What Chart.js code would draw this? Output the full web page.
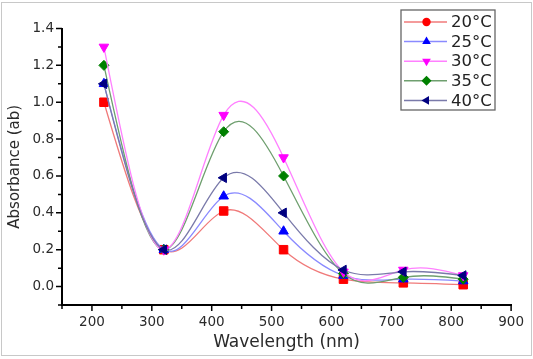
<!DOCTYPE html>
<html>
<head>
<meta charset="utf-8">
<script src="https://cdn.jsdelivr.net/npm/chart.js@4.4.1/dist/chart.umd.min.js"></script>
<style>
  html, body { margin: 0; padding: 0; background: #fff; }
  #wrap { width: 533px; height: 359px; position: relative; }
</style>
</head>
<body>
<div id="wrap"><canvas id="c" width="533" height="359"></canvas></div>
<script>
// ---- data ----
const wavelengths = [220, 320, 420, 520, 620, 720, 820];
const abs20 = [1.00, 0.20, 0.41, 0.20, 0.04, 0.02, 0.01];
const abs25 = [1.10, 0.20, 0.49, 0.30, 0.06, 0.04, 0.03];
const abs30 = [1.30, 0.20, 0.93, 0.70, 0.08, 0.09, 0.06];
const abs35 = [1.20, 0.20, 0.84, 0.60, 0.07, 0.05, 0.04];
const abs40 = [1.10, 0.20, 0.59, 0.40, 0.09, 0.08, 0.06];
const seriesLabels = ['20°C', '25°C', '30°C', '35°C', '40°C'];
const xTickLabels = [200, 300, 400, 500, 600, 700, 800, 900];
const yTickLabels = ['0.0', '0.2', '0.4', '0.6', '0.8', '1.0', '1.2', '1.4'];

const seriesValues = [abs20, abs25, abs30, abs35, abs40];
const lineColors = ['#f07a7a', '#8a8aff', '#ff80ff', '#6f9f6f', '#7a7aaa'];
const markColors = ['#ff0000', '#0000ff', '#ff00ff', '#008000', '#000080'];
const chartStyles = ['rect', 'triangle', 'triangle', 'rectRot', 'triangle'];
const rotations = [0, 0, 180, 0, 270];
const radii = [6, 5.5, 5.5, 5, 5.5];
const orders = [4, 3, 1, 2, 0];
const legendStyles = ['circle', 'up', 'down', 'diamond', 'left'];

const datasets = seriesValues.map((vals, i) => ({
  label: seriesLabels[i],
  data: wavelengths.map((w, j) => ({ x: w, y: vals[j] })),
  borderColor: lineColors[i],
  borderWidth: 1.3,
  backgroundColor: markColors[i],
  pointBackgroundColor: markColors[i],
  pointBorderColor: markColors[i],
  pointBorderWidth: 1,
  pointStyle: chartStyles[i],
  pointRotation: rotations[i],
  pointRadius: radii[i],
  tension: 0.4,
  fill: false,
  order: orders[i]
}));

// natural cubic spline through the library's own point positions (like Origin "Spline")
const splinePlugin = {
  id: 'naturalSpline',
  beforeDatasetDraw(chart, args) {
    const meta = args.meta;
    const pts = meta.data;
    const n = pts.length;
    if (n < 3) return;
    const x = pts.map(p => p.x), y = pts.map(p => p.y);
    const h = [];
    for (let i = 0; i < n - 1; i++) h[i] = x[i + 1] - x[i];
    const M = new Array(n).fill(0);
    const cp = [], dp = [];
    for (let i = 1; i < n - 1; i++) {
      const a = h[i - 1], b = 2 * (h[i - 1] + h[i]), c = h[i];
      const d = 6 * ((y[i + 1] - y[i]) / h[i] - (y[i] - y[i - 1]) / h[i - 1]);
      const den = b - (i > 1 ? a * cp[i - 1] : 0);
      cp[i] = c / den;
      dp[i] = (d - (i > 1 ? a * dp[i - 1] : 0)) / den;
    }
    for (let i = n - 2; i >= 1; i--) M[i] = dp[i] - cp[i] * M[i + 1];
    const m = [];
    for (let i = 0; i < n - 1; i++) m[i] = (y[i + 1] - y[i]) / h[i] - h[i] * (2 * M[i] + M[i + 1]) / 6;
    m[n - 1] = (y[n - 1] - y[n - 2]) / h[n - 2] + h[n - 2] * (M[n - 2] + 2 * M[n - 1]) / 6;
    pts[0].cp1x = x[0]; pts[0].cp1y = y[0];
    pts[n - 1].cp2x = x[n - 1]; pts[n - 1].cp2y = y[n - 1];
    for (let i = 0; i < n - 1; i++) {
      pts[i].cp2x = x[i] + h[i] / 3;
      pts[i].cp2y = y[i] + m[i] * h[i] / 3;
      pts[i + 1].cp1x = x[i + 1] - h[i] / 3;
      pts[i + 1].cp1y = y[i + 1] - m[i + 1] * h[i] / 3;
    }
    if (meta.dataset) {
      meta.dataset._pointsUpdated = true;
      meta.dataset._path = undefined;
    }
  }
};

function drawMarker(ctx, style, x, y, r, color) {
  ctx.save();
  ctx.fillStyle = color;
  ctx.beginPath();
  if (style === 'circle') {
    ctx.arc(x, y, r, 0, Math.PI * 2);
  } else if (style === 'diamond') {
    ctx.moveTo(x, y - r); ctx.lineTo(x + r, y); ctx.lineTo(x, y + r); ctx.lineTo(x - r, y);
  } else {
    const rot = { up: 0, down: Math.PI, left: -Math.PI / 2 }[style];
    for (let k = 0; k < 3; k++) {
      const a = rot + k * 2 * Math.PI / 3;
      const px = x + Math.sin(a) * r, py = y - Math.cos(a) * r;
      if (k === 0) ctx.moveTo(px, py); else ctx.lineTo(px, py);
    }
  }
  ctx.closePath();
  ctx.fill();
  ctx.restore();
}

const decorPlugin = {
  id: 'decor',
  afterDraw(chart) {
    const ctx = chart.ctx;
    const xs = chart.scales.x, ys = chart.scales.y;
    const area = chart.chartArea;
    ctx.save();
    // outer frame
    ctx.strokeStyle = '#c8c8c8';
    ctx.lineWidth = 1;
    ctx.strokeRect(1.5, 2.5, 530, 353);
    // ticks
    ctx.strokeStyle = '#000';
    ctx.lineWidth = 1.5;
    ctx.beginPath();
    for (let v = 150; v <= 900; v += 50) {
      const px = xs.getPixelForValue(v);
      const len = v % 100 === 0 ? 5 : 3;
      ctx.moveTo(px, area.bottom); ctx.lineTo(px, area.bottom + 1 + len);
    }
    for (let k = -1; k <= 14; k++) {
      const py = ys.getPixelForValue(k / 10);
      const len = k % 2 === 0 ? 5 : 3;
      ctx.moveTo(area.left, py); ctx.lineTo(area.left - 1 - len, py);
    }
    ctx.stroke();
    // legend
    const bx = 401, by = 10, bw = 94, bh = 100;
    ctx.fillStyle = '#fff';
    ctx.fillRect(bx, by, bw, bh);
    ctx.strokeStyle = '#666';
    ctx.lineWidth = 1.3;
    ctx.strokeRect(bx, by, bw, bh);
    ctx.font = '16.5px "DejaVu Sans"';
    ctx.textBaseline = 'middle';
    ctx.textAlign = 'left';
    for (let i = 0; i < seriesLabels.length; i++) {
      const yy = 22 + i * 19.6;
      ctx.strokeStyle = lineColors[i];
      ctx.lineWidth = 1.5;
      ctx.beginPath(); ctx.moveTo(404, yy); ctx.lineTo(447, yy); ctx.stroke();
      drawMarker(ctx, legendStyles[i], 426.5, yy, i === 0 ? 4.2 : 5, markColors[i]);
      ctx.fillStyle = '#222';
      ctx.fillText(seriesLabels[i], 451, yy + 1);
    }
    ctx.restore();
  }
};

const tickFont = { family: 'DejaVu Sans', size: 13.5 };

new Chart(document.getElementById('c'), {
  type: 'line',
  data: { datasets },
  plugins: [splinePlugin, decorPlugin],
  options: {
    responsive: false,
    animation: false,
    devicePixelRatio: 1,
    layout: { padding: { top: 28.5, right: 16.5, left: 0, bottom: 0 } },
    plugins: { legend: { display: false }, tooltip: { enabled: false } },
    scales: {
      x: {
        type: 'linear',
        min: 150, max: 900,
        afterFit: s => { s.height = 54; },
        grid: { display: true, drawOnChartArea: false, drawTicks: false },
        border: { display: true, color: '#000', width: 2 },
        ticks: {
          stepSize: 50, autoSkip: false, maxRotation: 0, padding: 9,
          color: '#2a2a2a', font: tickFont,
          callback: v => xTickLabels.includes(v) ? String(v) : ''
        },
        title: {
          display: true, text: 'Wavelength (nm)', color: '#2a2a2a',
          font: { family: 'DejaVu Sans', size: 17 }, padding: { top: 0, bottom: 6 }
        }
      },
      y: {
        type: 'linear',
        min: -0.1, max: 1.4,
        afterFit: s => { s.width = 62; },
        grid: { display: true, drawOnChartArea: false, drawTicks: false },
        border: { display: true, color: '#000', width: 2 },
        ticks: {
          stepSize: 0.1, autoSkip: false, padding: 8,
          color: '#2a2a2a', font: tickFont,
          callback: v => {
            const k = Math.round(v * 10);
            return (k >= 0 && k % 2 === 0) ? yTickLabels[k / 2] : '';
          }
        },
        title: {
          display: true, text: 'Absorbance (ab)', color: '#2a2a2a',
          font: { family: 'DejaVu Sans', size: 15 }, padding: { top: 6, bottom: 0 }
        }
      }
    }
  }
});
</script>
</body>
</html>
